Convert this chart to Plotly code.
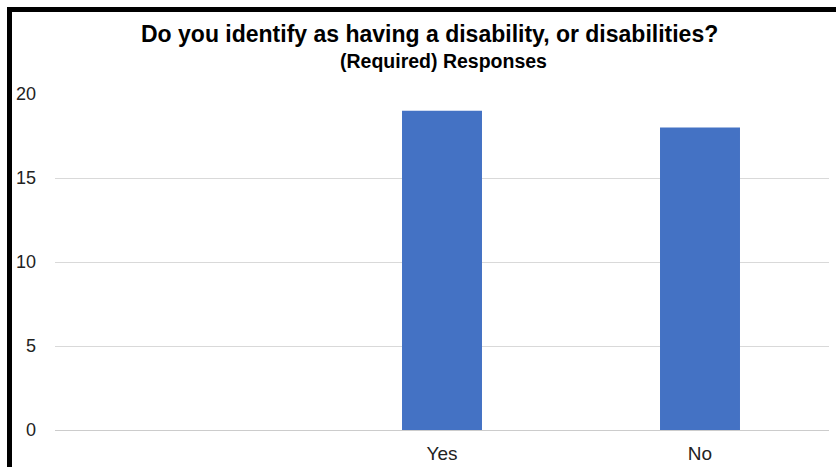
import plotly.graph_objects as go

categories = [" ", "Yes", "No"]
responses = [0, 19, 18]
y_ticks = [0, 5, 10, 15, 20]
title_line1 = "Do you identify as having a disability, or disabilities?"
title_line2 = "(Required) Responses"

W, H = 836, 467
L, R, T, B = 55, 7, 94, 37
pw, ph = W - L - R, H - T - B

def px_x(p):
    return (p - L) / pw

def px_y(p):
    return (H - B - p) / ph

fig = go.Figure(go.Bar(
    x=categories, y=responses, marker_color="#4472c4",
    marker_line_width=0, hoverinfo="x+y",
))

fig.update_layout(
    width=W, height=H,
    margin=dict(l=L, r=R, t=T, b=B, autoexpand=False),
    paper_bgcolor="white", plot_bgcolor="white",
    font=dict(family="Liberation Sans, Arial, sans-serif", size=17, color="#000000"),
    bargap=0.69,
    showlegend=False,
    xaxis=dict(
        type="category", showgrid=False, showline=False, zeroline=False,
        ticks="", ticklabelstandoff=10, automargin=False,
        tickfont=dict(size=19, color="#222222"),
    ),
    yaxis=dict(
        range=[0, 20], tickvals=y_ticks, showgrid=True, gridcolor="#d9d9d9",
        gridwidth=1, zeroline=True, zerolinecolor="#cccccc", zerolinewidth=1,
        showline=False, ticks="", ticklabelstandoff=18, automargin=False,
        tickfont=dict(size=18, color="#222222"),
    ),
    annotations=[
        dict(text="<b>" + title_line1 + "</b>", xref="paper", yref="paper",
             x=px_x(429), y=px_y(34), xanchor="center", yanchor="middle",
             showarrow=False, font=dict(size=23, color="#000000")),
        dict(text="<b>" + title_line2 + "</b>", xref="paper", yref="paper",
             x=px_x(443), y=px_y(61), xanchor="center", yanchor="middle",
             showarrow=False, font=dict(size=19.5, color="#000000")),
    ],
    shapes=[
        dict(type="rect", xref="paper", yref="paper",
             x0=px_x(7), x1=px_x(W + 2), y0=px_y(12), y1=px_y(7),
             fillcolor="black", line_width=0, layer="above"),
        dict(type="rect", xref="paper", yref="paper",
             x0=px_x(7), x1=px_x(12), y0=px_y(H + 2), y1=px_y(7),
             fillcolor="black", line_width=0, layer="above"),
    ],
)

fig.write_html("out.html")
